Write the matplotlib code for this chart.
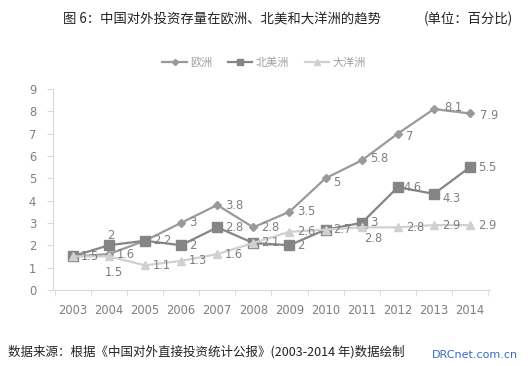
import matplotlib
matplotlib.use("Agg")
import matplotlib.pyplot as plt
import numpy as np

plt.rcParams['font.family'] = ['Noto Sans CJK SC', 'DejaVu Sans']

# --- data ---
years = ['2003', '2004', '2005', '2006', '2007', '2008',
         '2009', '2010', '2011', '2012', '2013', '2014']
europe = [1.5, 1.6, 2.2, 3.0, 3.8, 2.8, 3.5, 5.0, 5.8, 7.0, 8.1, 7.9]
north_america = [1.5, 2.0, 2.2, 2.0, 2.8, 2.1, 2.0, 2.7, 3.0, 4.6, 4.3, 5.5]
oceania = [1.5, 1.5, 1.1, 1.3, 1.6, 2.1, 2.6, 2.7, 2.8, 2.8, 2.9, 2.9]

# label placement tweaks (index -> (dx, dy) in pixels), None = no label
eu_lbl = {0: None, 2: None, 10: (10, 2), 11: (10, -2), 7: (8, -4), 8: (8, 2), 9: (8, -3)}
na_lbl = {0: None, 1: (-2, 10), 9: (6, 0), 10: (8, -5)}
oc_lbl = {1: (-4, -16), 5: None, 7: None, 8: (2, -11)}

x = np.arange(len(years))

fig = plt.figure(figsize=(5.28, 3.66), dpi=100)
ax = fig.add_axes([0.100, 0.208, 0.828, 0.549])

series = [
    ('欧洲', europe, '#9a9a9a', 'D', 4.5, eu_lbl),
    ('北美洲', north_america, '#858585', 's', 6.5, na_lbl),
    ('大洋洲', oceania, '#d0d0d0', '^', 6, oc_lbl),
]

for name, vals, col, mk, ms, tweaks in series:
    ax.plot(x, vals, color=col, lw=1.6, marker=mk, markersize=ms,
            markeredgecolor=col, label=name)

# data labels, mostly to the right of each point
for name, vals, col, mk, ms, tweaks in series:
    for i, v in enumerate(vals):
        off = tweaks.get(i, (8, 0))
        if off is None:
            continue
        ax.annotate('%g' % v, (x[i], v), xytext=off, textcoords='offset pixels',
                    ha='left', va='center', fontsize=8.3, color='#7f7f7f',
                    family=['DejaVu Sans'])

ax.set_xlim(-0.55, 11.55)
ax.set_ylim(0, 9)
ax.set_yticks(range(0, 10))
ax.set_xticks(x)
ax.set_xticklabels(years)
ax.set_xticks(np.arange(-0.5, 12, 1), minor=True)
ax.tick_params(axis='x', which='major', length=0, pad=10, labelsize=8.3,
               labelcolor='#7f7f7f')
ax.tick_params(axis='x', which='minor', length=4, color='#d9d9d9')
ax.tick_params(axis='y', length=4, color='#d9d9d9', labelsize=8.3,
               labelcolor='#7f7f7f', pad=8)
for lab in ax.get_xticklabels() + ax.get_yticklabels():
    lab.set_family('DejaVu Sans')

for s in ['top', 'right']:
    ax.spines[s].set_visible(False)
for s in ['left', 'bottom']:
    ax.spines[s].set_color('#d9d9d9')

leg = fig.legend(loc='center', bbox_to_anchor=(0.5, 0.830), ncol=3,
                 frameon=False, fontsize=8, handlelength=2.2,
                 columnspacing=1.4, handletextpad=0.3, markerscale=0.7)
for t in leg.get_texts():
    t.set_color('#a0a0a0')

fig.text(0.42, 0.948, '图 6：中国对外投资存量在欧洲、北美和大洋洲的趋势',
         ha='center', va='center', fontsize=9.6, color='#222222')
fig.text(0.887, 0.948, '(单位：百分比)', ha='center', va='center',
         fontsize=9.6, color='#222222')
fig.text(0.015, 0.038, '数据来源：根据《中国对外直接投资统计公报》(2003-2014 年)数据绘制',
         ha='left', va='center', fontsize=9.0, color='#222222')
fig.text(0.818, 0.030, 'DRCnet.com.cn', ha='left', va='center',
         fontsize=8, color='#3a6bc4', family=['DejaVu Sans'])

fig.savefig('out.png', dpi=100)
